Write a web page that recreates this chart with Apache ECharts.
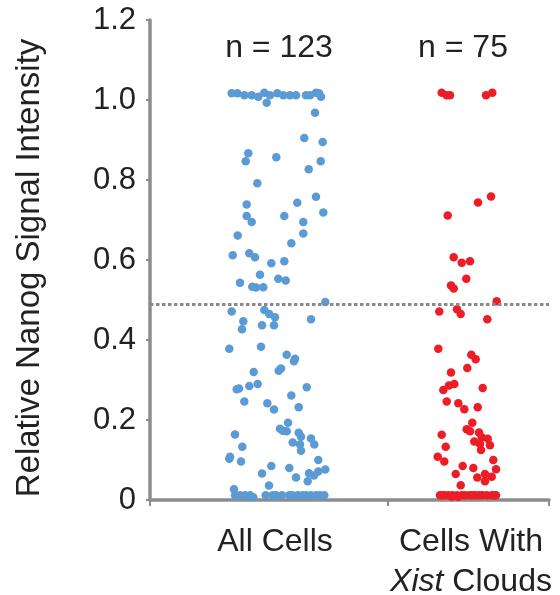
<!DOCTYPE html>
<html>
<head>
<meta charset="utf-8">
<script src="https://cdn.jsdelivr.net/npm/echarts@6/dist/echarts.min.js"></script>
<style>
  html, body { margin: 0; padding: 0; background: #fff; }
  #chart { width: 560px; height: 595px; }
</style>
</head>
<body>
<div id="chart"></div>
<script>
// x is a jitter position along the horizontal axis (0..399), y is the relative signal
var allCells = [
  [81.7,1.017],[87.3,1.017],[94.3,1.012],[101.7,1.012],[108.3,1.008],[114.3,1.018],[120,1.012],[116.7,0.993],
  [127.3,1.017],[133.3,1.012],[140,1.012],[146,1.012],[156,1.012],[160,1.012],[166,1.018],[169,1.017],[171,1.008],
  [165,0.968],[154.3,0.905],[172.7,0.895],[98.3,0.867],[95.7,0.847],[126.3,0.857],[170.7,0.847],[158.7,0.827],[107.3,0.792],
  [96.7,0.739],[147.3,0.743],[166,0.758],[173.3,0.719],[96.7,0.71],[101.7,0.695],[134.3,0.71],[153.3,0.695],[153.3,0.666],
  [87.7,0.661],[141.3,0.642],[82.7,0.612],[99.3,0.617],[105,0.607],[121.3,0.592],[134.3,0.597],[110,0.563],[128.3,0.553],
  [135.7,0.549],[90,0.543],[102.3,0.533],[106,0.531],[113.3,0.532],
  [175.3,0.495],[81.7,0.471],[114.3,0.475],[119.3,0.465],[125,0.457],[93.3,0.447],[161,0.452],[92,0.427],[112,0.437],
  [124,0.437],[79.3,0.378],[111,0.383],[136.7,0.363],[145,0.353],[144,0.347],[131,0.329],[128.7,0.323],[103.7,0.32],
  [86.7,0.277],[89,0.279],[99.3,0.285],[107.7,0.29],[156.7,0.282],
  [141.3,0.261],[94.3,0.246],[117.3,0.242],[124,0.226],[148.7,0.232],[138,0.193],[130,0.178],[132.7,0.173],[136.7,0.172],
  [148.7,0.168],[151,0.158],[85,0.164],[142.7,0.144],[161,0.154],[164.3,0.139],[150,0.139],[151,0.123],[92.3,0.133],
  [80,0.108],[79.3,0.103],[91,0.096],[168.3,0.1],[121.3,0.085],[139.3,0.08],[112,0.066],[159,0.067],[168.3,0.071],
  [175.3,0.076],[164,0.061],[146,0.056],[157.7,0.047],[119,0.036],[84,0.027],
  [85,0.012],[90,0.012],[100,0.012],[103.3,0.007],[115.7,0.012],[122.7,0.012],[126,0.012],[132,0.012],[139.3,0.012],
  [142.7,0.012],[152.7,0.012],[156,0.012],[160.7,0.012],[166,0.012],[174.3,0.012],[95,0.012],[148,0.012],[170,0.012]
];
var xistClouds = [
  [291.7,1.018],[296.7,1.012],[300,1.012],[336,1.012],[342.3,1.018],[341,0.759],[328,0.744],[297.7,0.711],
  [303.7,0.607],[311.7,0.593],[320,0.597],[316.3,0.553],[301,0.536],[303.7,0.529],[346.7,0.497],[289.3,0.471],
  [307,0.477],[310.7,0.465],[337.3,0.452],[288.3,0.378],[321.3,0.363],[325.7,0.352],
  [301,0.319],[317.3,0.33],[293.3,0.275],[299,0.286],[304.3,0.29],[332.7,0.28],[296.7,0.246],[308.3,0.242],
  [314.3,0.227],[327.7,0.232],[322.3,0.193],[316.7,0.177],[320,0.172],[329,0.169],[291.7,0.163],[331.7,0.157],
  [337.7,0.153],[324.3,0.146],[330,0.14],[340,0.137],[331,0.125],[295.7,0.133],[287.7,0.108],[294.3,0.096],
  [343.3,0.1],[312.7,0.085],[323.3,0.08],[346,0.077],[305.7,0.065],[335,0.065],[341.7,0.058],[327.3,0.056],
  [335,0.047],[310.7,0.037],
  [290,0.012],[294.3,0.012],[298.3,0.012],[302.3,0.012],[306.7,0.012],[311.7,0.012],[315,0.012],[319.3,0.012],
  [325,0.012],[332.3,0.012],[336.7,0.012],[341.7,0.012],[346,0.012],[301.7,0.008],[308.3,0.008],
  [292,0.012],[322,0.012],[329,0.012],[344,0.012]
];
var groupNames = ['All Cells', 'Cells With\n{it|Xist} Clouds'];
var groupCenters = [125, 321];
var groupTicks = [0, 238, 399];
var countLabels = ['n = 123', 'n = 75'];
var threshold = 0.495;

var chart = echarts.init(document.getElementById('chart'));
var font = 'Liberation Sans, Arial, sans-serif';
var axisGrey = '#8c8c8c';

option = {
  backgroundColor: '#fff',
  animation: false,
  grid: { left: 150, right: 11, top: 20, bottom: 95, outerBoundsMode: 'none', containLabel: false },
  xAxis: {
    type: 'value',
    min: 0,
    max: 399,
    splitLine: { show: false },
    axisLine: { lineStyle: { color: axisGrey, width: 3.5 } },
    axisTick: { show: true, customValues: groupTicks, length: 6, lineStyle: { color: axisGrey, width: 2 } },
    axisLabel: {
      customValues: groupCenters,
      margin: 22,
      fontFamily: font,
      fontSize: 32,
      color: '#222',
      lineHeight: 40,
      formatter: function (v) {
        return groupNames[groupCenters.indexOf(v)];
      },
      rich: { it: { fontStyle: 'italic', fontFamily: font, fontSize: 32, color: '#222', lineHeight: 40 } }
    }
  },
  yAxis: {
    type: 'value',
    min: 0,
    max: 1.2,
    interval: 0.2,
    name: 'Relative Nanog Signal Intensity',
    nameLocation: 'middle',
    nameGap: 104,
    nameTextStyle: { fontFamily: font, fontSize: 33, color: '#222', padding: [0, 16, 0, 0] },
    splitLine: { show: false },
    axisLine: { show: true, lineStyle: { color: axisGrey, width: 3.5 } },
    axisTick: { show: true, length: 4, lineStyle: { color: axisGrey, width: 2 } },
    axisLabel: {
      margin: 14,
      fontFamily: font,
      fontSize: 31,
      color: '#222',
      formatter: function (v) { return v === 0 ? '0' : v.toFixed(1); }
    }
  },
  graphic: [
    { type: 'text', x: 279, y: 48, style: { text: countLabels[0], font: '32px ' + font, fill: '#222', align: 'center', verticalAlign: 'middle' } },
    { type: 'text', x: 463, y: 48, style: { text: countLabels[1], font: '32px ' + font, fill: '#222', align: 'center', verticalAlign: 'middle' } }
  ],
  series: [
    {
      type: 'scatter',
      data: allCells,
      symbolSize: 8.5,
      itemStyle: { color: '#5b9bd5', opacity: 1 },
      markLine: {
        silent: true,
        symbol: 'none',
        label: { show: false },
        lineStyle: { color: '#8a8a8a', width: 3, type: [3.5, 2.5] },
        data: [{ yAxis: threshold }]
      }
    },
    {
      type: 'scatter',
      data: xistClouds,
      symbolSize: 8.5,
      itemStyle: { color: '#ee1c25', opacity: 1 }
    }
  ]
};
chart.setOption(option);
</script>
</body>
</html>
